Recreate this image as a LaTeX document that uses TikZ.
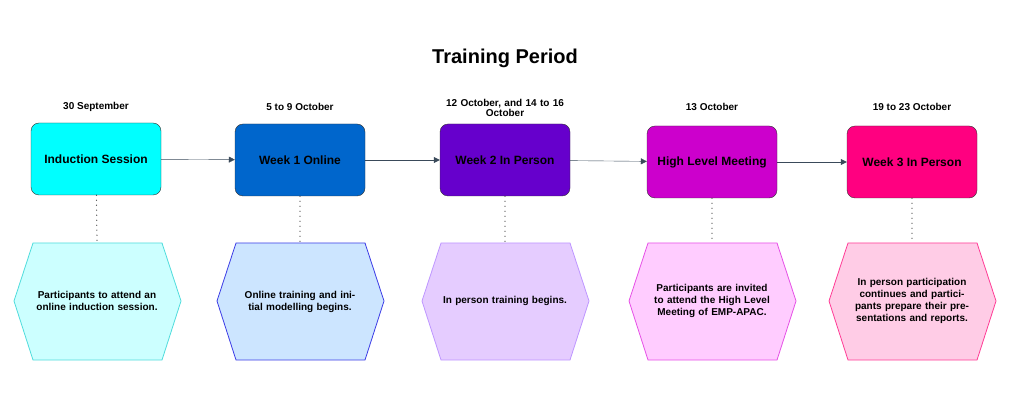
\documentclass[tikz,border=0pt]{standalone}
\usepackage{fontspec}
\setmainfont{Liberation Sans}
\usetikzlibrary{arrows.meta}
\definecolor{edgegray}{HTML}{3A4A5A}
\definecolor{cyanbox}{HTML}{00FFFF}
\tikzset{
  phase/.style={draw=black!80, rounded corners=8pt, minimum width=130pt, minimum height=72pt, font=\fontsize{12}{14}\selectfont\bfseries},
  date/.style={font=\fontsize{10}{12}\selectfont\bfseries, align=center},
  note/.style={font=\fontsize{10}{12}\selectfont\bfseries, align=center, text width=140pt},
  link/.style={edgegray, -{Triangle[length=6pt,width=6pt]}},
  dots/.style={black!75, line width=1.3pt, dash pattern=on 0pt off 5pt, line cap=round},
}
\newcommand{\hexa}[4]{% name, fill, draw, x
  \fill[#2] (#4-83,301) -- (#4-64,243) -- (#4+65,243) -- (#4+84,301) -- (#4+65,360) -- (#4-64,360) -- cycle;
  \draw[#3, line width=0.8pt] (#4-83,301) -- (#4-64,243) -- (#4+65,243) -- (#4+84,301) -- (#4+65,360) -- (#4-64,360) -- cycle;
  \coordinate (#1) at (#4,243);}
\begin{document}
\begin{tikzpicture}[x=1pt,y=-1pt]
\useasboundingbox (0,0) rectangle (1024,419);
\node[font=\fontsize{20}{24}\selectfont\bfseries] (title) at (505,58) {Training Period};
% timeline
\node[phase, fill=cyanbox] (induct) at (96,159) {Induction Session};
\node[phase, fill={rgb,255:red,0;green,102;blue,204}] (week1) at (300,160) {Week 1 Online};
\node[phase, fill={rgb,255:red,102;green,0;blue,204}] (week2) at (505,160) {Week 2 In Person};
\node[phase, fill={rgb,255:red,204;green,0;blue,204}] (meet) at (712,162) {High Level Meeting};
\node[phase, fill={rgb,255:red,255;green,0;blue,128}] (week3) at (912,162) {Week 3 In Person};
% dates
\node[date] (d1) at (96,107) {30 September};
\node[date] (d2) at (300,107) {5 to 9 October};
\node[date, text width=150pt] (d3) at (505,108) {12 October, and 14 to 16\\[-2pt]October};
\node[date] (d4) at (712,107) {13 October};
\node[date] (d5) at (912,107) {19 to 23 October};
\draw[link] (induct) -- (week1);
\draw[link] (week1) -- (week2);
\draw[link] (week2) -- (meet);
\draw[link] (meet) -- (week3);
% descriptions
\hexa{h1}{fill={rgb,255:red,204;green,255;blue,255}}{draw={rgb,255:red,80;green,220;blue,220}}{97}
\hexa{h2}{fill={rgb,255:red,204;green,229;blue,255}}{draw={rgb,255:red,60;green,60;blue,230}}{300}
\hexa{h3}{fill={rgb,255:red,229;green,204;blue,255}}{draw={rgb,255:red,190;green,150;blue,255}}{505}
\hexa{h4}{fill={rgb,255:red,255;green,204;blue,255}}{draw={rgb,255:red,230;green,80;blue,230}}{712}
\hexa{h5}{fill={rgb,255:red,255;green,204;blue,230}}{draw={rgb,255:red,255;green,60;blue,150}}{912}
\node[note] (n1) at (97,301) {Participants to attend an online induction session.};
\node[note] (n2) at (300,302) {Online training and initial modelling begins.};
\node[note] (n3) at (505,301) {In person training begins.};
\node[note] (n4) at (712,301) {Participants are invited to attend the High Level Meeting of EMP-APAC.};
\node[note] (n5) at (912,301) {In person participation continues and participants prepare their presentations and reports.};
\draw[dots] (induct) -- (h1);
\draw[dots] (week1) -- (h2);
\draw[dots] (week2) -- (h3);
\draw[dots] (meet) -- (h4);
\draw[dots] (week3) -- (h5);
\end{tikzpicture}
\end{document}
